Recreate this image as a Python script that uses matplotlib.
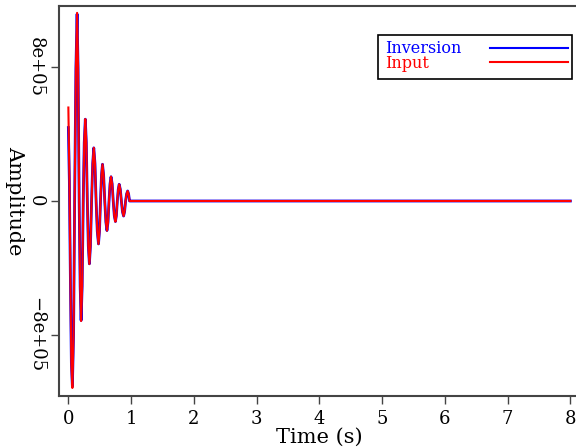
import matplotlib
matplotlib.use("Agg")
import matplotlib.pyplot as plt
from matplotlib.patches import Rectangle
from matplotlib.lines import Line2D

plt.rcParams['font.family'] = ['DejaVu Serif']

# Input trace
input_t = [0.0, 0.016, 0.032, 0.048, 0.064, 0.083, 0.10, 0.12, 0.139, 0.155, 0.172,
           0.188, 0.203, 0.22, 0.237, 0.253, 0.27, 0.286, 0.302, 0.318, 0.335,
           0.352, 0.37, 0.388, 0.405, 0.424, 0.442, 0.461, 0.48, 0.496, 0.512,
           0.528, 0.544, 0.562, 0.58, 0.598, 0.615, 0.632, 0.648, 0.664, 0.68,
           0.698, 0.715, 0.732, 0.75, 0.765, 0.78, 0.795, 0.81, 0.828, 0.845,
           0.862, 0.88, 0.896, 0.912, 0.928, 0.945, 0.96, 0.975, 0.988, 1.0, 8.0]
input_a = [5.6e5, 1.5e5, -4.5e5, -9.8e5, -1.12e6, -8.0e5, 0.0, 8.0e5, 1.127e6, 8.0e5, 0.0,
           -5.1e5, -7.19e5, -5.1e5, 0.0, 3.5e5, 4.91e5, 3.5e5, 0.0, -2.7e5, -3.78e5,
           -2.7e5, 0.0, 2.25e5, 3.19e5, 2.25e5, 0.0, -1.82e5, -2.58e5, -1.82e5, 0.0,
           1.55e5, 2.2e5, 1.55e5, 0.0, -1.26e5, -1.78e5, -1.26e5, 0.0, 1.03e5, 1.46e5,
           1.03e5, 0.0, -8.8e4, -1.24e5, -8.8e4, 0.0, 7.0e4, 1.0e5, 7.0e4, 0.0,
           -6.4e4, -9.0e4, -6.4e4, 0.0, 4.2e4, 6.0e4, 4.2e4, 0.0, 0.0, 0.0, 0.0]
# Inversion trace (nearly identical, slightly different start)
inv_t = [0.0, 0.016, 0.032, 0.048, 0.064, 0.083, 0.10, 0.12, 0.139, 0.155, 0.172,
         0.188, 0.203, 0.22, 0.237, 0.253, 0.27, 0.286, 0.302, 0.318, 0.335,
         0.352, 0.37, 0.388, 0.405, 0.424, 0.442, 0.461, 0.48, 0.496, 0.512,
         0.528, 0.544, 0.562, 0.58, 0.598, 0.615, 0.632, 0.648, 0.664, 0.68,
         0.698, 0.715, 0.732, 0.75, 0.765, 0.78, 0.795, 0.81, 0.828, 0.845,
         0.862, 0.88, 0.896, 0.912, 0.928, 0.945, 0.96, 0.975, 0.988, 1.0, 8.0]
inv_a = [4.4e5, 1.2e5, -4.5e5, -9.7e5, -1.11e6, -8.0e5, 0.0, 7.9e5, 1.12e6, 7.9e5, 0.0,
         -5.1e5, -7.15e5, -5.1e5, 0.0, 3.5e5, 4.9e5, 3.5e5, 0.0, -2.7e5, -3.76e5,
         -2.7e5, 0.0, 2.25e5, 3.18e5, 2.25e5, 0.0, -1.82e5, -2.57e5, -1.82e5, 0.0,
         1.55e5, 2.2e5, 1.55e5, 0.0, -1.26e5, -1.77e5, -1.26e5, 0.0, 1.03e5, 1.45e5,
         1.03e5, 0.0, -8.8e4, -1.23e5, -8.8e4, 0.0, 7.0e4, 1.0e5, 7.0e4, 0.0,
         -6.4e4, -9.0e4, -6.4e4, 0.0, 4.2e4, 6.0e4, 4.2e4, 0.0, 0.0, 0.0, 0.0]

xticks = [0, 1, 2, 3, 4, 5, 6, 7, 8]
yticks = [-8e5, 0, 8e5]
ytick_labels = ["\u22128e+05", "0", "8e+05"]

fig = plt.figure(figsize=(5.76, 4.47), dpi=100)
ax_left, ax_right = 58.7, 580.0
ax = fig.add_axes([ax_left/576, 1-396/447, (ax_right-ax_left)/576, (396-6)/447])

ax.plot(inv_t, inv_a, color=(0, 0, 1), lw=2.0, solid_joinstyle='round')
ax.plot(input_t, input_a, color=(1, 0, 0), lw=1.5, solid_joinstyle='round')

ax.set_xlim(-0.154, 8.154)
ax.set_ylim(-1.168e6, 1.168e6)
ax.set_xticks(xticks)
ax.set_xticklabels([str(v) for v in xticks])
ax.set_yticks(yticks)
ax.set_yticklabels(ytick_labels, rotation=-90, va='center')
ax.tick_params(direction='out', length=6, width=1, colors='#444444', labelcolor='black',
               labelsize=13, pad=4)
for s in ax.spines.values():
    s.set_color('#444444')
    s.set_linewidth(1.5)
ax.set_xlabel("Time (s)", fontsize=15, labelpad=0)
ax.set_ylabel("Amplitude", fontsize=15, rotation=-90, ha='center', va='center')
ax.yaxis.set_label_coords((15 - ax_left) / (ax_right - ax_left), 0.5)

# Legend box drawn in figure pixel coordinates
def fx(px):
    return px / 576
def fy(py):
    return 1 - py / 447
fig.patches.append(Rectangle((fx(378), fy(79)), fx(572) - fx(378), fy(35) - fy(79),
                             transform=fig.transFigure, fill=True, facecolor='white',
                             edgecolor='black', lw=1.2))
fig.text(fx(385), fy(53), "Inversion", color=(0, 0, 1), fontsize=11.5, va='baseline')
fig.text(fx(385), fy(68), "Input", color=(1, 0, 0), fontsize=11.5, va='baseline')
fig.lines.append(Line2D([fx(490), fx(568)], [fy(48), fy(48)], transform=fig.transFigure,
                        color=(0, 0, 1), lw=1.5))
fig.lines.append(Line2D([fx(490), fx(568)], [fy(62), fy(62)], transform=fig.transFigure,
                        color=(1, 0, 0), lw=1.5))

fig.savefig("out.png", dpi=100)
